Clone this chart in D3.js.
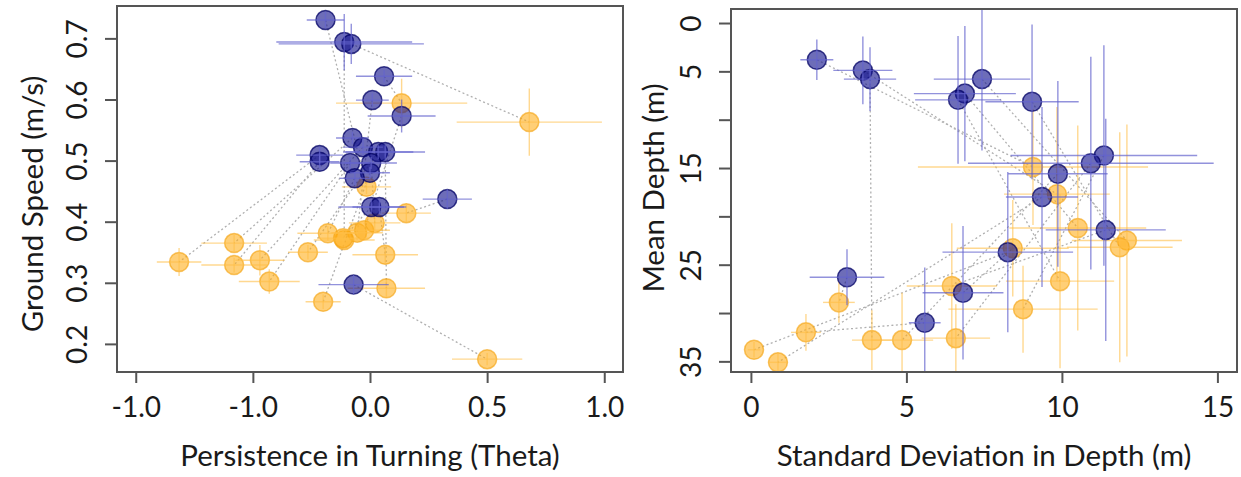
<!DOCTYPE html>
<html>
<head>
<meta charset="utf-8">
<script src="https://cdn.jsdelivr.net/npm/d3@7"></script>
<style>
  body { margin: 0; background: #fff; }
  text { font-family: Lato, "Open Sans", sans-serif; fill: #1a1a1a; }
</style>
</head>
<body>
<div id="chart"></div>
<script>
// ---- data ----
// left panel: [theta, speed, thetaErr, speedErr]; blue[i] pairs with orange[i]
const leftBlue = [
  [-0.19, 0.730, 0.08, 0.013], [-0.11, 0.694, 0.29, 0.046], [-0.08, 0.691, 0.31, 0.033],
  [0.06, 0.638, 0.12, 0.010], [0.01, 0.599, 0.07, 0.011], [0.135, 0.573, 0.145, 0.027],
  [-0.075, 0.537, 0.07, 0.010], [-0.03, 0.522, 0.085, 0.013], [-0.215, 0.509, 0.10, 0.013],
  [-0.215, 0.498, 0.085, 0.010], [-0.085, 0.496, 0.085, 0.010], [0.035, 0.514, 0.15, 0.012],
  [0.065, 0.514, 0.17, 0.012], [0.005, 0.496, 0.11, 0.010], [0.0, 0.480, 0.085, 0.010],
  [-0.065, 0.471, 0.065, 0.010], [0.005, 0.424, 0.14, 0.012], [0.04, 0.424, 0.115, 0.012],
  [0.33, 0.437, 0.105, 0.016], [-0.07, 0.297, 0.15, 0.016]
];
const leftOrange = [
  [-0.015, 0.457, 0.105, 0.012], [-0.11, 0.370, 0.13, 0.012], [0.68, 0.563, 0.31, 0.055],
  [0.135, 0.594, 0.28, 0.040], [-0.055, 0.382, 0.11, 0.012], [-0.025, 0.386, 0.11, 0.012],
  [-0.58, 0.365, 0.14, 0.014], [-0.47, 0.337, 0.105, 0.025], [-0.815, 0.334, 0.095, 0.023],
  [-0.58, 0.329, 0.14, 0.012], [-0.43, 0.302, 0.13, 0.020], [-0.265, 0.350, 0.085, 0.012],
  [0.07, 0.291, 0.165, 0.014], [0.02, 0.398, 0.11, 0.012], [-0.20, 0.269, 0.075, 0.012],
  [-0.18, 0.381, 0.13, 0.012], [-0.115, 0.373, 0.11, 0.012], [0.065, 0.346, 0.14, 0.014],
  [0.155, 0.414, 0.105, 0.016], [0.50, 0.175, 0.15, 0.010]
];
// right panel: [sdDepth, meanDepth, sdErr, depthErr]
const rightBlue = [
  [2.12, 3.8, 0.53, 2.1], [3.6, 4.9, 0.95, 3.5], [3.83, 5.8, 0.84, 3.3], [7.43, 5.8, 1.55, 7.4],
  [6.88, 7.3, 1.64, 7.0], [6.66, 7.95, 1.38, 6.6], [9.04, 8.15, 1.5, 8.0], [11.35, 13.7, 3.0, 11.4],
  [10.93, 14.5, 3.95, 11.0], [9.87, 15.6, 1.6, 9.6], [9.36, 18.0, 1.16, 9.3], [11.41, 21.4, 1.93, 11.5],
  [8.26, 23.7, 2.1, 8.3], [3.09, 26.3, 1.2, 2.9], [5.59, 31.0, 0.51, 5.7], [6.82, 27.9, 1.3, 6.9]
];
const rightOrange = [
  [9.07, 14.9, 3.7, 6.0], [9.84, 17.7, 1.7, 9.0], [3.89, 32.8, 0.64, 3.1], [12.09, 22.5, 1.77, 12.0],
  [10.51, 21.2, 2.2, 10.6], [9.94, 26.7, 1.74, 9.0], [11.86, 23.2, 1.7, 11.9], [8.75, 29.6, 2.4, 4.5],
  [6.59, 32.6, 1.1, 3.5], [4.86, 32.8, 1.0, 4.9], [0.87, 35.1, 0.3, 1.0], [6.46, 27.2, 1.45, 6.5],
  [0.1, 33.8, 0.2, 0.8], [2.83, 28.9, 0.51, 2.1], [1.77, 32.0, 0.48, 1.9], [8.42, 23.3, 1.8, 5.0]
];

const thetaTicks = [-1, -0.5, 0, 0.5, 1];
const thetaLabels = ["-1.0", "-1.0", "0.0", "0.5", "1.0"];
const speedTicks = [0.2, 0.3, 0.4, 0.5, 0.6, 0.7];
const speedLabels = ["0.2", "0.3", "0.4", "0.5", "0.6", "0.7"];
const sdTicks = [0, 5, 10, 15];
const sdLabels = ["0", "5", "10", "15"];
const depthTicks = [0, 5, 10, 15, 20, 25, 30, 35];
const depthLabels = ["0", "5", "", "15", "", "25", "", "35"];

// ---- layout ----
const W = 1241, H = 477;
const blueFill = "rgba(20,20,140,0.62)", blueStroke = "rgba(0,0,100,0.75)", blueBar = "rgba(100,100,205,0.7)";
const orangeFill = "rgba(255,172,20,0.58)", orangeStroke = "rgba(245,165,20,0.65)", orangeBar = "rgba(255,190,70,0.6)";

const svg = d3.select("#chart").append("svg")
    .attr("width", W)
    .attr("height", H);

const panels = [
  { id: "l", box: [117, 623, 6, 372], xd: [-1.08, 1.08], yd: [0.753, 0.154],
    blue: leftBlue, orange: leftOrange,
    xt: thetaTicks, xl: thetaLabels, yt: speedTicks, yl: speedLabels,
    xTitle: "Persistence in Turning (Theta)", yTitle: "Ground Speed (m/s)", yTitleX: 33, yTitleY: 204 },
  { id: "r", box: [731, 1237, 9, 372], xd: [-0.64, 15.63], yd: [-1.45, 36.1],
    blue: rightBlue, orange: rightOrange,
    xt: sdTicks, xl: sdLabels, yt: depthTicks, yl: depthLabels,
    xTitle: "Standard Deviation in Depth (m)", yTitle: "Mean Depth (m)", yTitleX: 654, yTitleY: 188 }
];

panels.forEach(p => {
  const [x0, x1, y0, y1] = p.box;
  const x = d3.scaleLinear().domain(p.xd).range([x0, x1]);
  const y = d3.scaleLinear().domain(p.yd).range([y0, y1]);

  svg.append("clipPath").attr("id", "clip-" + p.id)
    .append("rect").attr("x", x0).attr("y", y0).attr("width", x1 - x0).attr("height", y1 - y0);

  const g = svg.append("g").attr("clip-path", `url(#clip-${p.id})`);

  // dotted links blue -> orange
  g.selectAll("line.link")
    .data(p.blue.map((b, i) => [b, p.orange[i]]))
    .join("line")
      .attr("class", "link")
      .attr("x1", d => x(d[0][0])).attr("y1", d => y(d[0][1]))
      .attr("x2", d => x(d[1][0])).attr("y2", d => y(d[1][1]))
      .attr("stroke", "#b0b0b0")
      .attr("stroke-width", 1.3)
      .attr("stroke-dasharray", "2,2.5");

  const series = [
    { data: p.orange, fill: orangeFill, stroke: orangeStroke, bar: orangeBar },
    { data: p.blue, fill: blueFill, stroke: blueStroke, bar: blueBar }
  ];

  series.forEach(s => {
    g.selectAll(null).data(s.data).join("circle")
      .attr("cx", d => x(d[0]))
      .attr("cy", d => y(d[1]))
      .attr("r", 9.5)
      .attr("fill", s.fill)
      .attr("stroke", s.stroke)
      .attr("stroke-width", 1.5);

    g.selectAll(null).data(s.data).join("line")
      .attr("x1", d => x(d[0] - d[2])).attr("x2", d => x(d[0] + d[2]))
      .attr("y1", d => y(d[1])).attr("y2", d => y(d[1]))
      .attr("stroke", s.bar).attr("stroke-width", 1.4);

    g.selectAll(null).data(s.data).join("line")
      .attr("x1", d => x(d[0])).attr("x2", d => x(d[0]))
      .attr("y1", d => y(d[1] - d[3])).attr("y2", d => y(d[1] + d[3]))
      .attr("stroke", s.bar).attr("stroke-width", 1.4);
  });

  // box
  svg.append("rect")
    .attr("x", x0).attr("y", y0)
    .attr("width", x1 - x0).attr("height", y1 - y0)
    .attr("fill", "none")
    .attr("stroke", "#555")
    .attr("stroke-width", 2);

  // x axis
  const xAxis = svg.append("g")
      .attr("transform", `translate(0,${y1})`)
      .call(d3.axisBottom(x).tickValues(p.xt).tickFormat((d, i) => p.xl[i]).tickSize(11).tickPadding(14));
  xAxis.select(".domain").remove();
  xAxis.selectAll(".tick line").attr("stroke", "#555").attr("stroke-width", 2);
  xAxis.selectAll(".tick text").style("font-size", "28px").attr("fill", "#1a1a1a");

  // y axis with labels parallel to axis
  const yAxis = svg.append("g")
      .attr("transform", `translate(${x0},0)`)
      .call(d3.axisLeft(y).tickValues(p.yt).tickFormat((d, i) => p.yl[i]).tickSize(12));
  yAxis.select(".domain").remove();
  yAxis.selectAll(".tick line").attr("stroke", "#555").attr("stroke-width", 2);
  yAxis.selectAll(".tick text")
      .attr("transform", "rotate(-90)")
      .attr("x", 0).attr("y", -30).attr("dy", 0)
      .style("text-anchor", "middle")
      .style("font-size", "28px").attr("fill", "#1a1a1a");

  // titles
  svg.append("text")
    .attr("x", (x0 + x1) / 2).attr("y", 466)
    .attr("text-anchor", "middle")
    .style("font-size", "29.5px")
    .text(p.xTitle);

  svg.append("text")
    .attr("transform", `translate(${p.yTitleX + 10},${p.yTitleY}) rotate(-90)`)
    .attr("text-anchor", "middle")
    .style("font-size", "29.5px")
    .text(p.yTitle);
});
</script>
</body>
</html>
